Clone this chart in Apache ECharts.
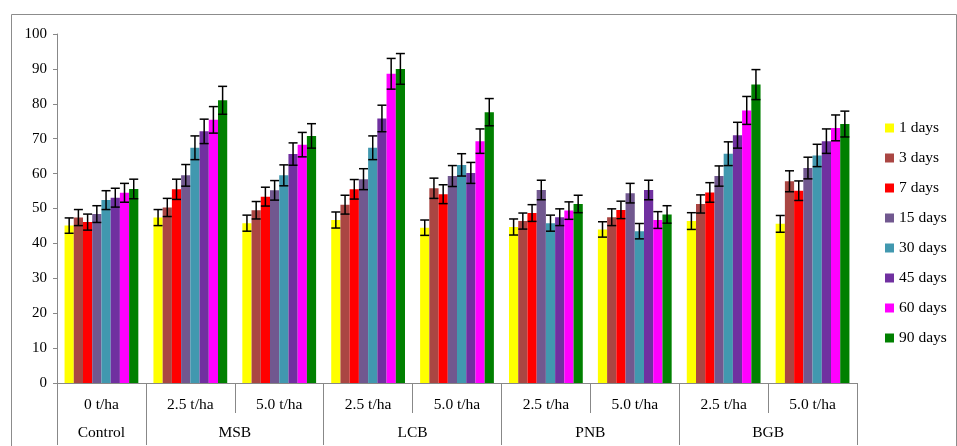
<!DOCTYPE html>
<html>
<head>
<meta charset="utf-8">
<script src="https://cdn.jsdelivr.net/npm/echarts@6/dist/echarts.min.js"></script>
<style>
html,body{margin:0;padding:0;background:#fff;}
#chart{width:957px;height:446px;}
</style>
</head>
<body>
<div id="chart"></div>
<script>
// Categories (lower row) and groups (upper row)
var categories = ['0 t/ha','2.5 t/ha','5.0 t/ha','2.5 t/ha','5.0 t/ha','2.5 t/ha','5.0 t/ha','2.5 t/ha','5.0 t/ha'];
var groups = ['Control','MSB','LCB','PNB','BGB'];
var groupSpans = [1,2,2,2,2];

var seriesNames = ['1 days','3 days','7 days','15 days','30 days','45 days','60 days','90 days'];
var seriesColors = ['#FFFF00','#AA4643','#FF0000','#71588F','#4198AF','#7030A0','#FF00FF','#008000'];

// Values per series (one value per category)
var d1  = [45.1, 47.4, 45.8, 46.7, 44.5, 44.7, 44.0, 46.4, 45.6];
var d3  = [47.4, 50.3, 49.5, 51.1, 55.8, 46.4, 47.5, 51.3, 57.8];
var d7  = [46.1, 55.5, 53.4, 55.5, 54.1, 48.7, 49.6, 54.6, 55.1];
var d15 = [48.4, 59.5, 55.2, 58.4, 59.3, 55.3, 54.4, 59.3, 61.6];
var d30 = [52.4, 67.4, 59.5, 67.4, 62.5, 45.8, 43.5, 65.7, 65.2];
var d45 = [53.1, 72.1, 65.6, 75.8, 60.2, 47.5, 55.3, 71.0, 69.3];
var d60 = [54.5, 75.4, 68.3, 88.6, 69.3, 49.4, 46.7, 78.1, 73.1];
var d90 = [55.6, 81.0, 70.8, 90.0, 77.6, 51.3, 48.3, 85.5, 74.2];

// Error bar half-lengths
var e1  = [2.2, 2.3, 2.3, 2.3, 2.2, 2.3, 2.2, 2.4, 2.4];
var e3  = [2.3, 2.6, 2.5, 2.7, 2.9, 2.3, 2.4, 2.6, 3.0];
var e7  = [2.3, 2.9, 2.7, 2.8, 2.7, 2.4, 2.5, 2.8, 2.8];
var e15 = [2.4, 3.1, 2.8, 3.0, 3.0, 2.8, 2.8, 2.9, 3.1];
var e30 = [2.7, 3.4, 3.0, 3.4, 3.2, 2.3, 2.2, 3.4, 3.2];
var e45 = [2.7, 3.5, 3.2, 3.8, 3.0, 2.4, 2.8, 3.7, 3.5];
var e60 = [2.7, 3.8, 3.5, 4.4, 3.5, 2.5, 2.4, 4.0, 3.7];
var e90 = [2.8, 4.0, 3.5, 4.4, 3.9, 2.5, 2.5, 4.3, 3.7];

var yTicks = [0,10,20,30,40,50,60,70,80,90,100];

var values = [d1,d3,d7,d15,d30,d45,d60,d90];
var errors = [e1,e3,e7,e15,e30,e45,e60,e90];

var FONT = 'Liberation Serif';
var FS = 15.5;
var GAP = 0.17;

// group boundaries and label positions
var groupBounds = [0], groupCenters = [], acc = 0;
groupSpans.forEach(function(s){ groupCenters.push(acc + s/2); acc += s; groupBounds.push(acc); });

var series = [];
seriesNames.forEach(function(n, i){
  series.push({
    name: n, type: 'bar', data: values[i],
    barCategoryGap: (GAP*100) + '%', barGap: '0%',
    itemStyle: {color: seriesColors[i]},
    xAxisIndex: 0, yAxisIndex: 0, z: 2
  });
});

var errData = [];
values.forEach(function(arr, s){
  arr.forEach(function(v, c){ errData.push([c, s, v, errors[s][c]]); });
});

series.push({
  type: 'custom', name: 'err', xAxisIndex: 0, yAxisIndex: 0, z: 5,
  data: errData,
  encode: {x: 0, y: 2},
  renderItem: function(params, api){
    var c = api.value(0), s = api.value(1), v = api.value(2), e = api.value(3);
    var band = api.size([1, 0])[0];
    var bw = band * (1 - GAP) / seriesNames.length;
    var cx = api.coord([c, v])[0] + (s - (seriesNames.length - 1) / 2) * bw;
    var yt = api.coord([c, v + e])[1];
    var yb = api.coord([c, v - e])[1];
    var hw = 4.5;
    var st = {stroke: '#000', lineWidth: 1.5};
    return {type: 'group', children: [
      {type: 'line', shape: {x1: cx, y1: yt, x2: cx, y2: yb}, style: st},
      {type: 'line', shape: {x1: cx - hw, y1: yt, x2: cx + hw, y2: yt}, style: st},
      {type: 'line', shape: {x1: cx - hw, y1: yb, x2: cx + hw, y2: yb}, style: st}
    ]};
  }
});

var chart = echarts.init(document.getElementById('chart'), null, {renderer: 'canvas'});
chart.setOption({
  animation: false,
  backgroundColor: '#fff',
  textStyle: {fontFamily: FONT},
  graphic: [{
    type: 'rect', left: 9, top: 12, shape: {width: 945, height: 460},
    style: {fill: 'none', stroke: '#8c8c8c', lineWidth: 1}, silent: true, z: -1
  }],
  grid: {left: 57, right: 100, top: 34, bottom: 63, containLabel: false},
  legend: {
    orient: 'vertical', left: 880, top: 115,
    itemWidth: 9, itemHeight: 9, itemGap: 14, icon: 'rect',
    data: seriesNames,
    textStyle: {fontFamily: FONT, fontSize: FS, color: '#000', lineHeight: 16}
  },
  xAxis: [{
    type: 'category', data: categories, position: 'bottom',
    axisLine: {lineStyle: {color: '#888', width: 1}},
    axisTick: {show: true, interval: 0, length: 30, lineStyle: {color: '#888'}},
    axisLabel: {interval: 0, margin: 14, color: '#000', fontFamily: FONT, fontSize: FS},
    splitLine: {show: false}
  }, {
    type: 'value', min: 0, max: categories.length, position: 'bottom',
    axisLine: {show: false},
    axisTick: {show: true, customValues: groupBounds, length: 62, lineStyle: {color: '#888'}},
    axisLabel: {
      customValues: groupCenters, margin: 42, color: '#000', fontFamily: FONT, fontSize: FS,
      formatter: function(val){
        var i = groupCenters.indexOf(val);
        return i >= 0 ? groups[i] : '';
      }
    },
    splitLine: {show: false}
  }],
  yAxis: {
    type: 'value', min: yTicks[0], max: yTicks[yTicks.length - 1], interval: yTicks[1] - yTicks[0],
    axisLine: {show: true, lineStyle: {color: '#888', width: 1}},
    axisTick: {show: true, length: 4, lineStyle: {color: '#888'}},
    axisLabel: {margin: 10, color: '#000', fontFamily: FONT, fontSize: 15},
    splitLine: {show: false}
  },
  series: series
});
</script>
</body>
</html>
